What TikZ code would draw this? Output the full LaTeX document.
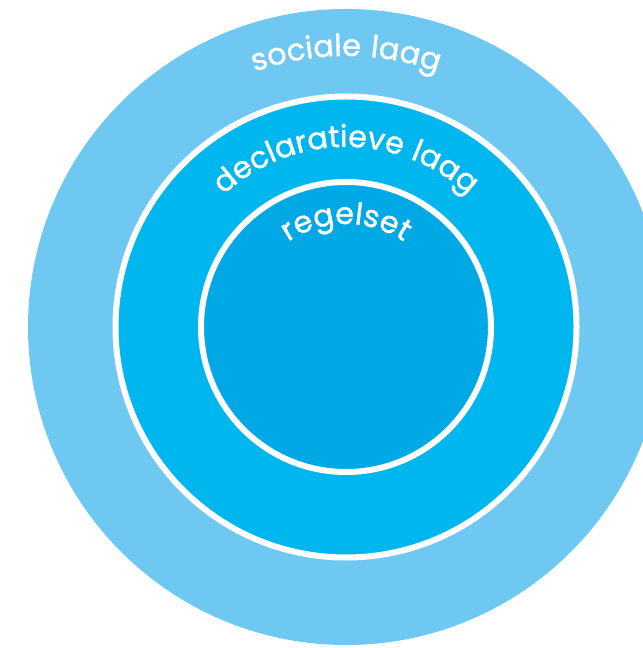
\documentclass[tikz,border=0pt]{standalone}
\usepackage{fontspec}
\newfontfamily\ringfont{Poppins}[FakeBold=1.2, LetterSpace=4]
\usetikzlibrary{calc,decorations.text}
\definecolor{socialblue}{HTML}{6FC8F1}
\definecolor{declblue}{HTML}{00B6EE}
\definecolor{ruleblue}{HTML}{00A9E5}

\tikzset{
  ring/.style={draw=white, line width=6bp},
  ringlabel/.style={decorate, decoration={text along path, text align=center,
      text color=white, text={|\ringfont\fontsize{30.5}{34}\selectfont|#1}}}
}

\begin{document}
\begin{tikzpicture}[x=1bp,y=1bp]
\useasboundingbox (0,0) rectangle (643,648);
\coordinate (c) at (346,321);
% three layers, outer to inner
\fill[socialblue] (c) circle (318bp);
\draw[ring, fill=declblue] (c) circle (230.5bp);
\draw[ring, fill=ruleblue] (c) circle (145bp);
% labels bent along the rings
\path[ringlabel=sociale laag] ($(c)+(150:271)$) arc[start angle=150, end angle=30, radius=271bp];
\path[ringlabel=declaratieve laag] ($(c)+(170:180)$) arc[start angle=170, end angle=10, radius=180bp];
\path[ringlabel=regelset] ($(c)+(170:103)$) arc[start angle=170, end angle=10, radius=103bp];
\end{tikzpicture}
\end{document}
